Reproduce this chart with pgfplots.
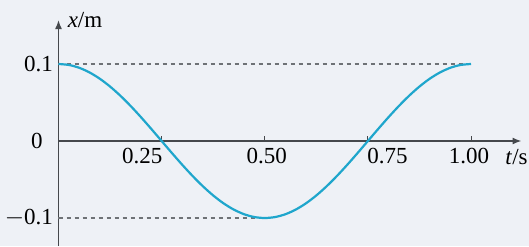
\documentclass[border=0pt]{standalone}
\usepackage{pgfplots}
\pgfplotsset{compat=1.18}
\usetikzlibrary{arrows.meta}
\usepackage{fontspec}
\setmainfont{Liberation Serif}
\definecolor{bg}{HTML}{EEF1F6}
\definecolor{curve}{HTML}{1FA6CC}
\definecolor{axc}{HTML}{45484C}
\definecolor{dashc}{HTML}{6E7276}
\begin{document}
\begin{tikzpicture}[x=1pt,y=1pt]
\useasboundingbox (0,0) rectangle (529,246);
\fill[bg] (0,0) rectangle (529,246);
\begin{axis}[
  scale only axis,
  width=463pt, height=226pt,
  anchor=origin, at={(58.5pt,105pt)},
  xmin=0, xmax=1.1224, ymin=-0.1364, ymax=0.1571,
  axis lines=middle,
  axis line style={axc, line width=1.4pt, -{Latex[length=9pt,width=7pt]}},
  xtick={0.25,0.5,0.75,1}, xticklabels={},
  ytick=\empty,
  tick align=inside,
  major tick length=5pt,
  every tick/.style={axc, line width=1pt},
  clip=false,
  font=\fontsize{23}{26}\selectfont,
]
\addplot[dashc, line width=1.2pt, dash pattern=on 4pt off 4pt] coordinates {(0,0.1) (1,0.1)};
\addplot[dashc, line width=1.2pt, dash pattern=on 4pt off 4pt] coordinates {(0,-0.1) (0.5,-0.1)};
\addplot[curve, line width=2.2pt, smooth] coordinates {
(0,0.1) (0.025,0.098769) (0.05,0.095106) (0.075,0.089101) (0.1,0.080902)
(0.125,0.070711) (0.15,0.058779) (0.175,0.045399) (0.2,0.030902) (0.225,0.015643)
(0.25,0) (0.275,-0.015643) (0.3,-0.030902) (0.325,-0.045399) (0.35,-0.058779)
(0.375,-0.070711) (0.4,-0.080902) (0.425,-0.089101) (0.45,-0.095106) (0.475,-0.098769)
(0.5,-0.1) (0.525,-0.098769) (0.55,-0.095106) (0.575,-0.089101) (0.6,-0.080902)
(0.625,-0.070711) (0.65,-0.058779) (0.675,-0.045399) (0.7,-0.030902) (0.725,-0.015643)
(0.75,0) (0.775,0.015643) (0.8,0.030902) (0.825,0.045399) (0.85,0.058779)
(0.875,0.070711) (0.9,0.080902) (0.925,0.089101) (0.95,0.095106) (0.975,0.098769)
(1,0.1)};
\node[anchor=north east, inner sep=0pt] at (axis cs:0.252,-0.009) {0.25};
\node[anchor=north, inner sep=0pt] at (axis cs:0.505,-0.009) {0.50};
\node[anchor=north west, inner sep=0pt] at (axis cs:0.748,-0.009) {0.75};
\node[anchor=north, inner sep=0pt] at (axis cs:0.995,-0.009) {1.00};
\node[anchor=east, inner sep=0pt] at (axis cs:-0.013,0.1) {0.1};
\node[anchor=east, inner sep=0pt] at (axis cs:-0.038,0) {0};
\node[anchor=east, inner sep=0pt] at (axis cs:-0.013,-0.1) {$-$0.1};
\node[anchor=west, inner sep=0pt] at (axis cs:0.022,0.157) {\textit{x}/m};
\node[anchor=west, inner sep=0pt] at (axis cs:1.083,-0.021) {\textit{t}/s};
\end{axis}
\end{tikzpicture}
\end{document}
